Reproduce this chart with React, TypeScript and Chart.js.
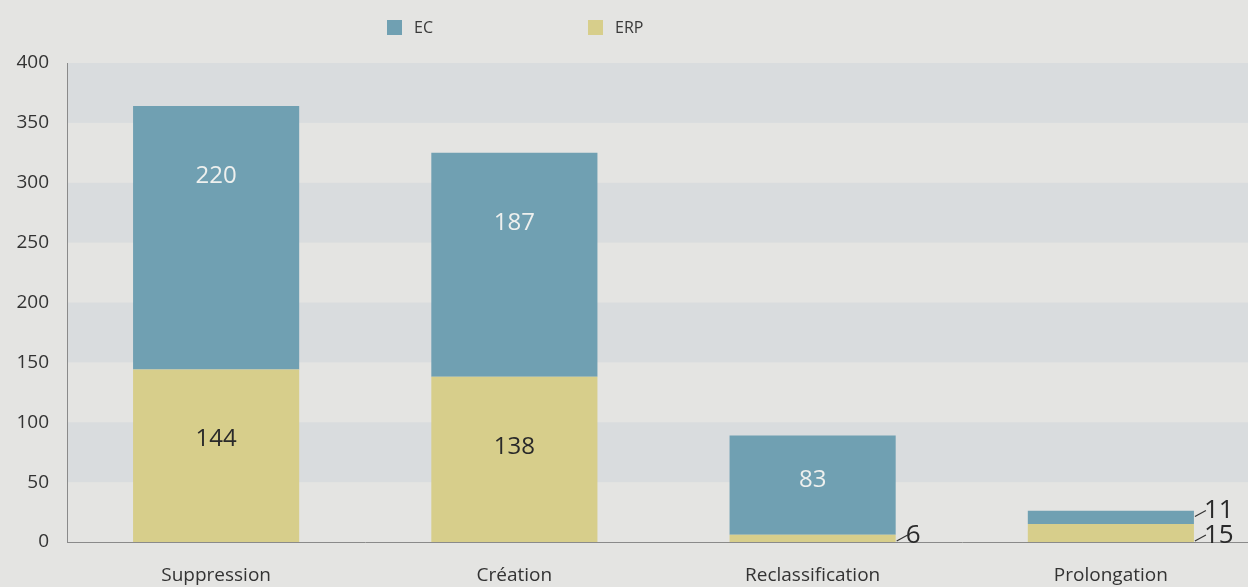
import React, { useEffect, useRef } from "react";
import { Chart, registerables } from "chart.js";

Chart.register(...registerables);

const categories = ["Suppression", "Création", "Reclassification", "Prolongation"];
const ecValues = [220, 187, 83, 11];
const erpValues = [144, 138, 6, 15];
const seriesNames = ["EC", "ERP"];
const yMin = 0;
const yMax = 400;
const yStep = 50;
const bandStarts = [50, 150, 250, 350];

const EC_COLOR = "#70a0b2";
const ERP_COLOR = "#d7ce8b";
const PAGE_BG = "#e4e4e2";
const BAND_BG = "#d9dcde";
const FONT = "'Open Sans', 'Noto Sans', sans-serif";

const bgPlugin = {
  id: "bgPlugin",
  beforeDraw(chart: any) {
    const { ctx, chartArea, scales } = chart;
    ctx.save();
    ctx.fillStyle = PAGE_BG;
    ctx.fillRect(0, 0, chart.width, chart.height);
    ctx.fillStyle = BAND_BG;
    const y = scales.y;
    bandStarts.forEach((v) => {
      const top = y.getPixelForValue(v + yStep);
      const bot = y.getPixelForValue(v);
      ctx.fillRect(chartArea.left, top, chartArea.right - chartArea.left, bot - top);
    });
    ctx.restore();
  },
};

const legendPlugin = {
  id: "customLegend",
  afterDraw(chart: any) {
    const { ctx } = chart;
    const items = [
      { name: seriesNames[0], color: EC_COLOR, x: 387 },
      { name: seriesNames[1], color: ERP_COLOR, x: 588 },
    ];
    ctx.save();
    ctx.font = `16px ${FONT}`;
    ctx.textBaseline = "middle";
    ctx.textAlign = "left";
    items.forEach((it) => {
      ctx.fillStyle = it.color;
      ctx.fillRect(it.x, 20, 15, 15);
      ctx.fillStyle = "#3a3a3a";
      ctx.fillText(it.name, it.x + 27, 28);
    });
    ctx.restore();
  },
};

const labelPlugin = {
  id: "valueLabels",
  afterDatasetsDraw(chart: any) {
    const { ctx } = chart;
    ctx.save();
    chart.data.datasets.forEach((ds: any, di: number) => {
      const meta = chart.getDatasetMeta(di);
      meta.data.forEach((bar: any, i: number) => {
        const v = ds.data[i];
        const top = Math.min(bar.y, bar.base);
        const bot = Math.max(bar.y, bar.base);
        const h = bot - top;
        const right = bar.x + bar.width / 2;
        if (v >= 20) {
          ctx.font = `24px ${FONT}`;
          ctx.textAlign = "center";
          ctx.textBaseline = "middle";
          ctx.fillStyle = ds.label === "EC" ? "#eef0ee" : "#2a2a2a";
          const ly = top + Math.min(70, h / 2 - 5);
          ctx.fillText(String(v), bar.x, ly);
        } else {
          const y0 = ds.label === "EC" ? (top + bot) / 2 - 1 : bot - 1;
          ctx.strokeStyle = "#333";
          ctx.lineWidth = 1.2;
          ctx.beginPath();
          ctx.moveTo(right + 1, y0);
          ctx.lineTo(right + 12, y0 - 6);
          ctx.stroke();
          ctx.font = `26px ${FONT}`;
          ctx.textAlign = "left";
          ctx.textBaseline = "alphabetic";
          ctx.fillStyle = "#2a2a2a";
          ctx.fillText(String(v), right + 10, y0 + 2);
        }
      });
    });
    ctx.restore();
  },
};

export default function App() {
  const ref = useRef<HTMLCanvasElement | null>(null);

  useEffect(() => {
    document.body.style.margin = "0";
    document.documentElement.style.overflow = "hidden";
    document.body.style.background = PAGE_BG;
    const canvas = ref.current;
    if (!canvas) return;
    const chart = new Chart(canvas, {
      type: "bar",
      data: {
        labels: categories,
        datasets: [
          { label: "ERP", data: erpValues, backgroundColor: ERP_COLOR, borderWidth: 0 },
          { label: "EC", data: ecValues, backgroundColor: EC_COLOR, borderWidth: 0 },
        ],
      },
      options: {
        animation: false,
        responsive: false,
        layout: { padding: { top: 63, right: 0, left: 0, bottom: 0 } },
        datasets: { bar: { barPercentage: 1, categoryPercentage: 0.557 } },
        plugins: {
          legend: { display: false },
          tooltip: { enabled: false },
        },
        scales: {
          x: {
            stacked: true,
            grid: { display: false, drawTicks: false },
            border: { display: true, color: "#8a8a8a", width: 1 },
            ticks: { color: "#333", font: { family: FONT, size: 19 }, padding: 22 },
            afterFit(scale: any) {
              scale.height = 45;
            },
          },
          y: {
            stacked: true,
            min: yMin,
            max: yMax,
            grid: { display: false, drawTicks: false },
            border: { display: true, color: "#8a8a8a", width: 1 },
            ticks: {
              stepSize: yStep,
              color: "#333",
              font: { family: FONT, size: 19 },
              padding: 18,
            },
            afterFit(scale: any) {
              scale.width = 67;
            },
          },
        },
      },
      plugins: [bgPlugin, labelPlugin, legendPlugin],
    });
    return () => chart.destroy();
  }, []);

  return (
    <div style={{ width: 1248, height: 587, overflow: "hidden" }}>
      <canvas ref={ref} width={1260} height={587} style={{ display: "block" }} />
    </div>
  );
}
